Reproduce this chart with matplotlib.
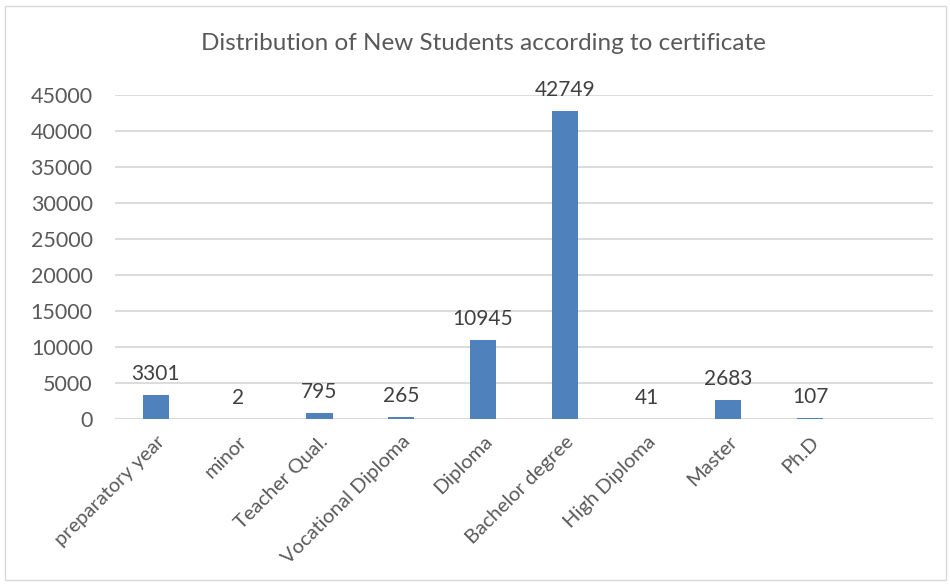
import matplotlib
matplotlib.use('Agg')
import matplotlib.pyplot as plt
from matplotlib.patches import Rectangle

plt.rcParams['font.family'] = ['Lato', 'DejaVu Sans']

# --- Datos ---
categorias = ['preparatory year', 'minor', 'Teacher Qual.', 'Vocational Diploma',
              'Diploma', 'Bachelor degree', 'High Diploma', 'Master', 'Ph.D']
valores = [3301, 2, 795, 265, 10945, 42749, 41, 2683, 107]
yticks = [0, 5000, 10000, 15000, 20000, 25000, 30000, 35000, 40000, 45000]

color_barra = '#4f81bd'
color_texto = '#595959'

fig = plt.figure(figsize=(9.5, 5.86), dpi=100)
ax = fig.add_axes([0.121, 0.285, 0.861, 0.553])

x = list(range(len(categorias)))
barras = ax.bar(x, valores, width=0.32, color=color_barra, zorder=3)

# etiquetas de valor
for xi, v in zip(x, valores):
    ax.annotate(str(v), (xi, v), xytext=(0, 8), textcoords='offset points',
                ha='center', va='bottom', fontsize=15, color='#404040')

ax.set_xlim(-0.5, len(categorias) + 0.5)
ax.set_ylim(0, 45000)
ax.set_yticks(yticks)
ax.set_yticklabels([str(t) for t in yticks], fontsize=15.5, color=color_texto)
ax.set_xticks(x)
ax.set_xticklabels(categorias, rotation=45, ha='right', rotation_mode='anchor',
                   fontsize=14.5, color=color_texto)
ax.tick_params(axis='both', length=0)
ax.tick_params(axis='x', pad=10)
ax.tick_params(axis='y', pad=16)
ax.grid(axis='y', color='#d9d9d9', lw=1.3, zorder=0)
for s in ax.spines.values():
    s.set_visible(False)
ax.axhline(0, color='#d9d9d9', lw=1.5, zorder=2)

fig.text(483 / 950, 1 - 44 / 586, 'Distribution of New Students according to certificate',
         ha='center', va='center', fontsize=17.5, color=color_texto)

# borde del gráfico
fig.patches.append(Rectangle((5 / 950, 6 / 586), 941 / 950, 574 / 586,
                             transform=fig.transFigure, fill=False,
                             edgecolor='#d9d9d9', lw=1))

fig.savefig('out.png', dpi=100)
